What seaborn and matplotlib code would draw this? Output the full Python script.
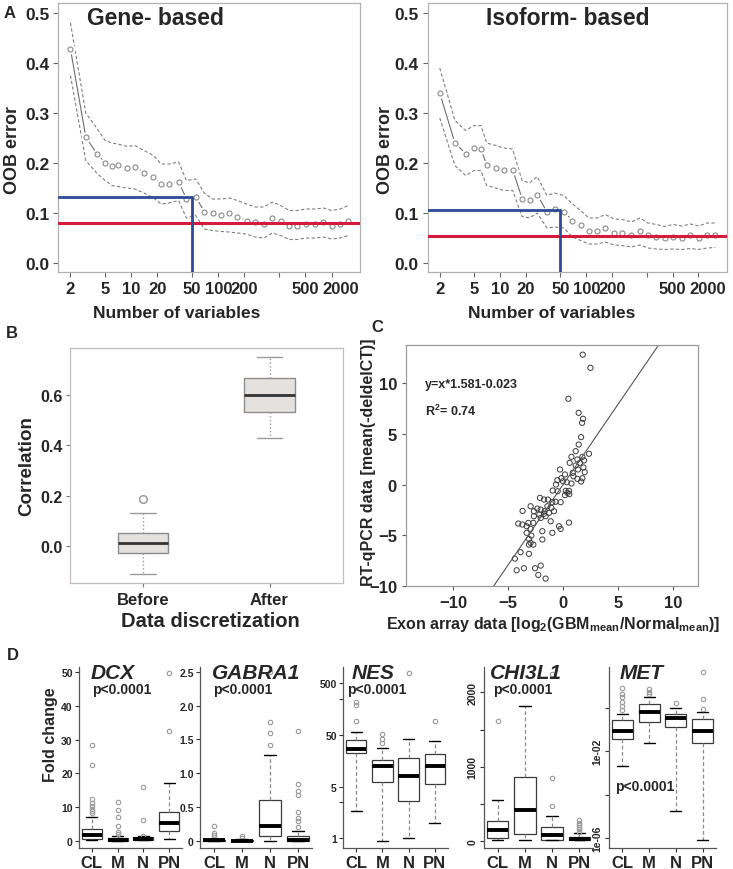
import numpy as np
import matplotlib
matplotlib.use("Agg")
import matplotlib.pyplot as plt
import matplotlib.transforms as mtransforms
import seaborn as sns

W, H = 733, 870

# ---------------- data ----------------
# panel A: number of variables at each varSelRF step and OOB error
n_vars = [2, 3, 4, 5, 6, 7, 9, 11, 14, 18, 22, 27, 35, 43, 55, 69, 86, 107, 134, 166,
          211, 263, 334, 418, 521, 651, 812, 1013, 1289, 1610, 2010, 2508, 3130]
gene_err = [0.428, 0.252, 0.219, 0.201, 0.195, 0.196, 0.190, 0.193, 0.181, 0.172, 0.158,
            0.158, 0.163, 0.128, 0.132, 0.103, 0.100, 0.097, 0.100, 0.093, 0.085, 0.083,
            0.079, 0.090, 0.085, 0.075, 0.075, 0.079, 0.079, 0.083, 0.075, 0.079, 0.085]
gene_hi = [0.48, 0.30, 0.27, 0.245, 0.24, 0.238, 0.233, 0.235, 0.225, 0.215, 0.198, 0.198,
           0.202, 0.165, 0.168, 0.14, 0.128, 0.128, 0.13, 0.125, 0.118, 0.112, 0.112, 0.122,
           0.115, 0.105, 0.105, 0.108, 0.108, 0.11, 0.105, 0.108, 0.115]
gene_lo = [0.375, 0.205, 0.18, 0.165, 0.155, 0.153, 0.15, 0.148, 0.14, 0.13, 0.118, 0.12,
           0.125, 0.09, 0.095, 0.068, 0.065, 0.063, 0.062, 0.06, 0.058, 0.052, 0.05, 0.06,
           0.055, 0.047, 0.047, 0.05, 0.05, 0.052, 0.048, 0.05, 0.055]
iso_err = [0.340, 0.240, 0.219, 0.231, 0.229, 0.196, 0.191, 0.187, 0.187, 0.129, 0.127,
           0.137, 0.102, 0.109, 0.103, 0.085, 0.076, 0.065, 0.065, 0.071, 0.061, 0.061,
           0.056, 0.065, 0.056, 0.053, 0.050, 0.053, 0.050, 0.056, 0.050, 0.056, 0.056]
iso_hi = [0.39, 0.285, 0.265, 0.275, 0.275, 0.24, 0.235, 0.23, 0.228, 0.165, 0.16, 0.173,
          0.135, 0.14, 0.135, 0.118, 0.105, 0.09, 0.09, 0.097, 0.088, 0.087, 0.082, 0.09,
          0.08, 0.077, 0.073, 0.077, 0.074, 0.078, 0.074, 0.08, 0.08]
iso_lo = [0.29, 0.195, 0.175, 0.185, 0.185, 0.155, 0.15, 0.145, 0.145, 0.093, 0.09, 0.1,
          0.07, 0.072, 0.07, 0.052, 0.045, 0.038, 0.038, 0.042, 0.036, 0.035, 0.032, 0.036,
          0.03, 0.028, 0.027, 0.028, 0.027, 0.029, 0.027, 0.03, 0.031]
gene_sel = (50, 0.132)   # chosen number of variables, its OOB error
gene_min = 0.080
iso_sel = (50, 0.107)
iso_min = 0.055
a_ticks = [2, 5, 10, 20, 50, 100, 200, 500, 1000, 2000]
a_ticklabels = ["2", "5", "10", "20", "50", "100", "200", "", "500", "2000"]

# panel B: correlation before / after discretization (whislo, q1, med, q3, whishi)
b_groups = ["Before", "After"]
b_box = [(-0.11, -0.026, 0.012, 0.052, 0.132), (0.431, 0.532, 0.599, 0.667, 0.752)]
b_fliers = [[0.188], []]

# panel C: exon array vs RT-qPCR
exon_x = [1.80, 2.50, 0.49, 1.43, 1.83, 1.74, 1.65, 1.43, 1.16, 0.77, 2.37, 1.77, 1.31, 1.92,
          0.61, 1.55, 1.16, 1.86, 1.37, 1.98, 0.89, -0.27, 0.18, 0.95, 1.77, -0.15, -0.51,
          0.00, 0.34, 1.65, 1.31, -0.64, 0.77, 0.25, 0.55, 0.40, 0.18, 0.58, -0.94, -0.48,
          -2.10, -1.73, -1.37, -0.97, -0.67, -0.21, -2.95, -2.34, -2.03, -1.67, -1.42, -1.06,
          -1.28, -0.82, -1.73, -2.15, -2.65, -3.68, -2.65, -2.03, -1.58, -1.12, -0.36, 0.55,
          -0.21, -0.97, -1.88, -1.88, -4.07, -3.70, -3.31, -3.16, -2.70, -2.95, -3.31, -2.88,
          -3.10, -2.95, -3.10, -2.70, -3.10, -3.86, -4.38, -4.22, -3.56, -2.55, -2.03, -2.25,
          -1.58]
qpcr_y = [12.8, 11.5, 8.45, 7.07, 6.48, 6.08, 4.67, 3.94, 3.29, 2.73, 3.03, 2.73, 2.47, 2.37,
          2.14, 2.14, 1.87, 1.68, 1.48, 1.22, 1.15, 1.48, 0.99, 0.82, 0.62, 0.62, 0.43, 0.33,
          0.23, 0.30, 0.56, 0.00, 0.10, -0.62, -0.62, -0.82, -1.05, -0.95, -0.59, -0.66,
          -1.31, -1.48, -1.48, -1.74, -1.70, -1.74, -2.14, -2.37, -2.47, -2.63, -2.14, -2.30,
          -2.79, -2.63, -2.89, -2.96, -2.63, -2.60, -3.12, -3.29, -3.12, -3.62, -4.11, -3.75,
          -4.37, -4.76, -4.60, -5.42, -3.85, -3.94, -4.11, -3.78, -3.78, -4.37, -4.76, -5.03,
          -5.36, -5.75, -5.92, -5.92, -6.83, -6.67, -7.30, -8.45, -8.25, -8.25, -7.99, -8.91,
          -9.27]
fit_slope, fit_icpt = 1.581, -0.023

# panel D: fold change per subtype (whislo, q1, med, q3, whishi)
subtypes = ["CL", "M", "N", "PN"]
dcx_box = [(0.2, 0.5, 1.8, 3.5, 6.9), (0.0, 0.05, 0.3, 0.8, 1.4),
           (0.1, 0.3, 0.6, 1.0, 1.3), (0.5, 2.8, 5.2, 8.4, 17.1)]
dcx_fliers = [[8.2, 8.8, 9.5, 10.3, 11.2, 12.3, 22.3, 28.5], [2.0, 2.6, 4.4, 6.9, 9.2, 11.5],
              [1.5, 6.0, 15.8], [32.6, 49.6]]
gabra1_box = [(0.0, 0.0, 0.003, 0.01, 0.03), (0.0, 0.0, 0.002, 0.008, 0.02),
              (0.0, 0.065, 0.22, 0.60, 1.27), (0.0, 0.0, 0.01, 0.065, 0.14)]
gabra1_fliers = [[0.05, 0.08, 0.12, 0.22], [0.04, 0.07], [1.42, 1.60, 1.75, 2.5],
                 [0.2, 0.29, 0.33, 0.42, 0.67, 0.73, 0.84, 1.62]]
nes_box = [(1.66, 21.9, 27.0, 39.1, 56.7), (0.44, 6.1, 12.3, 16.0, 28.4),
           (0.52, 2.7, 8.0, 18.0, 41.0), (1.0, 5.5, 12.4, 21.5, 38.0)]
nes_fliers = [[92.5, 187, 216], [35, 40.9, 50.9], [782], [92.5]]
chi3l1_box = [(13, 44, 152, 268, 559), (13, 98, 420, 859, 1820),
              (13, 22, 85, 188, 344), (13, 17, 31, 54, 107)]
chi3l1_fliers = [[1611], [], [478, 846, 2245], [130, 160, 190, 220, 250, 286]]
met_box = [(0.002, 0.037, 0.0895, 0.279, 0.53), (0.025, 0.226, 0.65, 1.48, 3.1),
           (1.8e-5, 0.128, 0.334, 0.51, 0.97), (8e-7, 0.023, 0.0895, 0.31, 0.63)]
met_fliers = [[0.81, 1.28, 1.83, 3.1, 4.4, 8.1], [4.4, 5.6, 7.5], [1.65], [0.9, 2.6, 44]]

# ---------------- style ----------------
sns.set_theme(style="white")
plt.rcParams["font.family"] = ["Liberation Sans", "DejaVu Sans"]
plt.rcParams["font.weight"] = "bold"
plt.rcParams["mathtext.fontset"] = "custom"
plt.rcParams["mathtext.rm"] = "Liberation Sans:bold"
plt.rcParams["mathtext.bf"] = "Liberation Sans:bold"
plt.rcParams["mathtext.it"] = "Liberation Sans:bold"

fig = plt.figure(figsize=(W / 100, H / 100), dpi=100)
fig.patch.set_facecolor("white")


def px_axes(x0, y0, x1, y1):
    return fig.add_axes([x0 / W, 1 - y1 / H, (x1 - x0) / W, (y1 - y0) / H])


def ftext(x, y, s, **kw):
    fig.text(x / W, 1 - y / H, s, ha=kw.pop("ha", "center"), va=kw.pop("va", "center"),
             fontweight=kw.pop("fontweight", "bold"), **kw)


def frame(ax, color):
    for sp in ax.spines.values():
        sp.set_visible(True)
        sp.set_color(color)
        sp.set_linewidth(0.9)


# ---------------- panel A ----------------
def oob_panel(ax, err, hi, lo, sel, best, title, title_x, title_ha):
    ax.set_xscale("log")
    sns.lineplot(x=n_vars, y=hi, ax=ax, color="#808080", lw=0.8, dashes=False)
    sns.lineplot(x=n_vars, y=lo, ax=ax, color="#808080", lw=0.8, dashes=False)
    for ln in ax.lines:
        ln.set_linestyle((0, (3, 2)))
    ax.plot(n_vars, err, color="#6e6e6e", lw=0.8)
    ax.scatter(n_vars, err, s=34, facecolor="white", edgecolor="white", lw=1.5, zorder=3)
    ax.scatter(n_vars, err, s=13, facecolor="white", edgecolor="#8a8a8a", lw=0.8, zorder=4)
    ax.set_xlim(1.45, 4250)
    ax.set_ylim(-0.018, 0.52)
    ax.axhline(best, color="#d61a3c", lw=2.2, zorder=5)
    ax.plot([1.45, sel[0]], [sel[1], sel[1]], color="#2b4c95", lw=2, zorder=6)
    ax.plot([sel[0], sel[0]], [sel[1], -0.018], color="#2b4c95", lw=2, zorder=6)
    ax.set_xticks(a_ticks)
    ax.set_xticklabels(a_ticklabels)
    ax.xaxis.set_minor_locator(matplotlib.ticker.NullLocator())
    ax.set_yticks([0, 0.1, 0.2, 0.3, 0.4, 0.5])
    ax.set_yticklabels(["0.0", "0.1", "0.2", "0.3", "0.4", "0.5"])
    ax.tick_params(axis="both", length=3.5, width=0.8, color="#666", direction="out",
                   labelsize=12, pad=3, bottom=True, left=True)
    ax.tick_params(axis="y", labelsize=12.5)
    for lab in ax.get_xticklabels() + ax.get_yticklabels():
        lab.set_fontweight("bold")
    # the last label sits a little right of its tick in the original figure
    last = ax.get_xticklabels()[-1]
    last.set_transform(last.get_transform() +
                       mtransforms.ScaledTranslation(0.09, 0, fig.dpi_scale_trans))
    ax.set_xlabel("")
    ax.set_ylabel("")
    frame(ax, "#b5b0b0")
    ax.text(title_x, 0.945, title, transform=ax.transAxes, ha=title_ha, va="center",
            fontsize=16.5, fontweight="bold")


axA1 = px_axes(58.3, 4, 360, 273)
oob_panel(axA1, gene_err, gene_hi, gene_lo, gene_sel, gene_min, "Gene- based", 0.095, "left")
axA2 = px_axes(427.7, 4, 726.7, 273)
oob_panel(axA2, iso_err, iso_hi, iso_lo, iso_sel, iso_min, "Isoform- based", 0.47, "center")

ftext(10, 13, "A", fontsize=12)
ftext(13, 150, "OOB error", fontsize=13, rotation=90)
ftext(385, 150, "OOB error", fontsize=13, rotation=90)
ftext(177, 314, "Number of variables", fontsize=12.5)
ftext(552, 314, "Number of variables", fontsize=12.5)

# ---------------- panel B ----------------
axB = px_axes(70, 349, 343, 584)
b_stats = [dict(whislo=b[0], q1=b[1], med=b[2], q3=b[3], whishi=b[4], fliers=f, label=g)
           for b, f, g in zip(b_box, b_fliers, b_groups)]
axB.bxp(b_stats, positions=[0, 1], widths=0.4, capwidths=0.2, patch_artist=True,
        boxprops=dict(facecolor="#e5e1df", edgecolor="#8c8c8c", lw=1),
        medianprops=dict(color="#333333", lw=2),
        whiskerprops=dict(color="#9a9a9a", lw=1, ls=":"),
        capprops=dict(color="#9a9a9a", lw=1),
        flierprops=dict(marker="o", ms=5.5, mfc="none", mec="#9a9a9a", mew=1.1))
axB.set_xlim(-0.577, 1.581)
axB.set_ylim(-0.146, 0.786)
axB.set_yticks([0.0, 0.2, 0.4, 0.6])
axB.set_yticklabels(["0.0", "0.2", "0.4", "0.6"])
axB.set_xticks([0, 1])
axB.set_xticklabels(b_groups)
axB.tick_params(axis="both", length=3, width=0.8, color="#777", direction="out",
                labelsize=12, bottom=True, left=True)
axB.tick_params(axis="y", labelsize=11.5, pad=2)
for lab in axB.get_xticklabels() + axB.get_yticklabels():
    lab.set_fontweight("bold")
axB.grid(False)
frame(axB, "#c3bcbc")
ftext(12, 333, "B", fontsize=12)
ftext(27, 466, "Correlation", fontsize=13.5, rotation=90)
ftext(210, 622, "Data discretization", fontsize=14.5)

# ---------------- panel C ----------------
axC = px_axes(406, 346, 698, 587)
sns.scatterplot(x=exon_x, y=qpcr_y, ax=axC, s=14, marker="o", facecolor="none",
                edgecolor="#3a3a3a", linewidth=0.7)
cx0, cx1 = -14.3, 12.3
cy0, cy1 = -10, 13.75
fx = np.array([cx0, cx1])
axC.plot(fx, fit_slope * fx + fit_icpt, color="#555555", lw=0.8)
axC.set_xlim(cx0, cx1)
axC.set_ylim(cy0, cy1)
axC.set_xticks([-10, -5, 0, 5, 10])
axC.set_yticks([-10, -5, 0, 5, 10])
axC.tick_params(axis="both", length=3, width=0.8, color="#555", direction="out",
                labelsize=12, bottom=True, left=True)
for lab in axC.get_xticklabels() + axC.get_yticklabels():
    lab.set_fontweight("bold")
frame(axC, "#9a9a9a")
axC.text(0.065, 0.84, "y=x*1.581-0.023", transform=axC.transAxes, fontsize=9,
         fontweight="bold", va="center")
axC.text(0.065, 0.73, r"R$^2$= 0.74", transform=axC.transAxes, fontsize=9,
         fontweight="bold", va="center")
ftext(377, 328, "C", fontsize=12)
ftext(369, 462, "RT-qPCR data [mean(-deldelCT)]", fontsize=11.5, rotation=90)
ftext(553, 625, r"Exon array data [log$_2$(GBM$_\mathrm{mean}$/Normal$_\mathrm{mean}$)]",
      fontsize=11.5)

# ---------------- panel D ----------------
def d_panel(rect, boxes, fliers, title, ylim, yticks, yticklabels, log=False,
            rot=False, minor=None, title_x=0.1, p_pos=(0.1, 0.88)):
    ax = px_axes(*rect)
    if log:
        ax.set_yscale("log")
    stats = [dict(whislo=b[0], q1=b[1], med=b[2], q3=b[3], whishi=b[4], fliers=f, label=s)
             for b, f, s in zip(boxes, fliers, subtypes)]
    ax.bxp(stats, positions=range(4), widths=0.78, capwidths=0.42, patch_artist=True,
           boxprops=dict(facecolor="white", edgecolor="#3a3a3a", lw=0.9),
           medianprops=dict(color="black", lw=2.8),
           whiskerprops=dict(color="#8a8a8a", lw=0.9, ls=(0, (3, 2))),
           capprops=dict(color="black", lw=1.0),
           flierprops=dict(marker="o", ms=3.2, mfc="none", mec="#9a9a9a", mew=0.8))
    ax.set_xlim(-0.5, 3.5)
    ax.set_ylim(*ylim)
    ax.set_yticks(yticks)
    ax.set_yticklabels(yticklabels)
    if minor is not None:
        ax.set_yticks(minor, minor=True)
    else:
        ax.yaxis.set_minor_locator(matplotlib.ticker.NullLocator())
    ax.set_xticks(range(4))
    ax.set_xticklabels(subtypes)
    ax.tick_params(axis="x", length=3, width=0.8, color="#333", labelsize=12, pad=2,
                   bottom=True)
    ax.tick_params(axis="y", which="both", length=3, width=0.8, color="#333",
                   labelsize=7.5, pad=1.5, left=True)
    if rot:
        ax.tick_params(axis="y", labelrotation=90)
        for lab in ax.get_yticklabels():
            lab.set_va("center")
    for lab in ax.get_xticklabels() + ax.get_yticklabels():
        lab.set_fontweight("bold")
    ax.grid(False)
    for side in ["top", "right"]:
        ax.spines[side].set_visible(False)
    for side in ["left", "bottom"]:
        ax.spines[side].set_color("#555")
        ax.spines[side].set_linewidth(0.9)
    ax.text(title_x, 0.97, title, transform=ax.transAxes, fontsize=15, fontweight="bold",
            fontstyle="italic", va="center", ha="left")
    ax.text(p_pos[0], p_pos[1], "p<0.0001", transform=ax.transAxes, fontsize=10,
            fontweight="bold", va="center", ha="left")
    return ax


TOP, BOT = 668, 849
d_panel((79, TOP, 182, BOT), dcx_box, dcx_fliers, "DCX", (-2.16, 51.5),
        [0, 10, 20, 30, 40, 50], ["0", "10", "20", "30", "40", "50"],
        title_x=0.11, p_pos=(0.125, 0.88))
d_panel((200, TOP, 312, BOT), gabra1_box, gabra1_fliers, "GABRA1", (-0.108, 2.57),
        [0, 0.5, 1.0, 1.5, 2.0, 2.5], ["0", "0.5", "1.0", "1.5", "2.0", "2.5"],
        title_x=0.11, p_pos=(0.115, 0.88))
d_panel((343, TOP, 448, BOT), nes_box, nes_fliers, "NES", (0.327, 1020),
        [500, 50, 5, 0.5], ["500", "50", "5", "1"], log=True, minor=[250, 2.5],
        title_x=0.085, p_pos=(0.04, 0.88))
d_panel((484, TOP, 593, BOT), chi3l1_box, chi3l1_fliers, "CHI3L1", (-90, 2340),
        [0, 500, 1000, 1500, 2000], ["0", "", "1000", "", "2000"], rot=True,
        title_x=0.055, p_pos=(0.08, 0.88))
d_panel((609, TOP, 716, BOT), met_box, met_fliers, "MET", (3.4e-7, 78),
        [1, 1e-2, 1e-4, 1e-6], ["", "1e-02", "", "1e-06"], log=True, rot=True,
        title_x=0.1, p_pos=(0.056, 0.34))
ftext(13, 655, "D", fontsize=12)
ftext(51, 735, "Fold change", fontsize=11.5, rotation=90)

fig.savefig("out.png", dpi=100, facecolor="white")
